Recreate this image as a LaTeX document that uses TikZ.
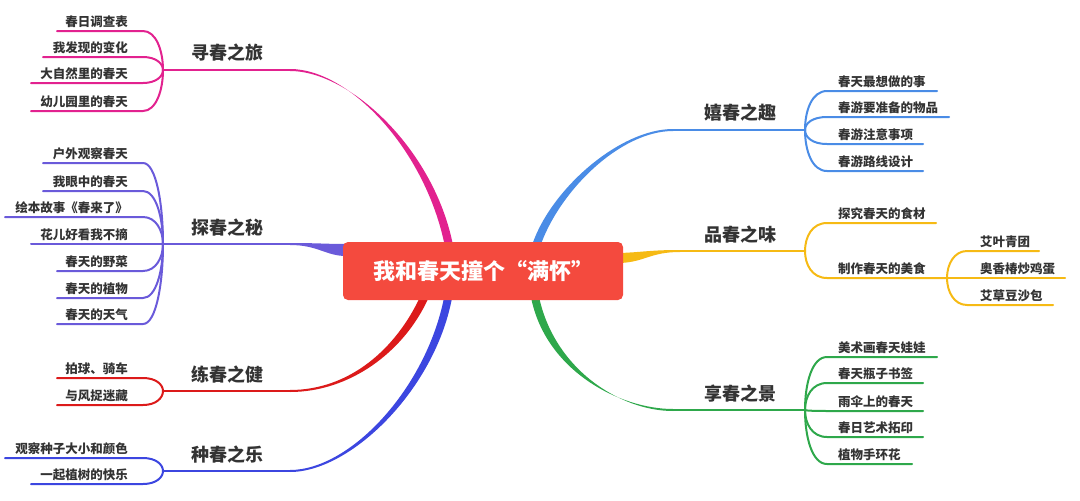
\documentclass[tikz,border=0pt]{standalone}
\usepackage{fontspec}
\setmainfont{Noto Sans CJK SC}
\usetikzlibrary{calc}
\definecolor{cmag}{HTML}{E2228F}
\definecolor{cpur}{HTML}{6A5ADA}
\definecolor{cred}{HTML}{DC1A1A}
\definecolor{cblu}{HTML}{3C46E0}
\definecolor{crbl}{HTML}{4A8CE6}
\definecolor{cyel}{HTML}{F6BA14}
\definecolor{cgrn}{HTML}{2EA84B}
\definecolor{boxred}{HTML}{F44A3E}
\definecolor{txt}{HTML}{333333}
\newcommand\taper[7]{\fill[#1] ($(#2)+(#6)$) .. controls ($(#3)+(#6)$) and ($(#4)+(#7)$) .. ($(#5)+(#7)$) -- ($(#5)-(#7)$) .. controls ($(#4)-(#7)$) and ($(#3)-(#6)$) .. ($(#2)-(#6)$) -- cycle;}
\tikzset{
  leafL/.style={anchor=base east, inner sep=0pt, text=txt, font=\fontsize{12.5}{14}\selectfont\bfseries},
  leafR/.style={anchor=base west, inner sep=0pt, text=txt, font=\fontsize{12.5}{14}\selectfont\bfseries},
  topic/.style={inner sep=0pt, text=txt, font=\fontsize{18}{20}\selectfont\bfseries},
  ln/.style={line width=2pt, line cap=round},
}
\begin{document}
\begin{tikzpicture}[x=1pt,y=-1pt]
\useasboundingbox (0,0) rectangle (1080,501);
% ---------- left forks
\coordinate (f1) at (163,70);
\coordinate (f2) at (163,244);
\coordinate (f3) at (163,391);
\coordinate (f4) at (163,471);
\coordinate (m1) at (290,70);
\coordinate (m2) at (290,244);
\coordinate (m3) at (290,391);
\coordinate (m4) at (290,471);
% ---------- right forks
\coordinate (g1) at (805,130);
\coordinate (g2) at (805,251);
\coordinate (g3) at (805,410);
\coordinate (g2b) at (947,278);
\coordinate (n1) at (673,130);
\coordinate (n2) at (680,251);
\coordinate (n3) at (673,410);

% main tapered connectors
\coordinate (b1) at (449,246);
\taper{cmag}{m1}{350,70}{430,150}{b1}{0,1}{4,-0.8}
\coordinate (b2) at (346,250);
\taper{cpur}{m2}{318,244}{326,250}{b2}{0,1}{0,6}
\coordinate (b3) at (424,298);
\taper{cred}{m3}{350,391}{400,350}{b3}{0,1}{3.6,1.8}
\coordinate (b4) at (448,298);
\taper{cblu}{m4}{350,471}{430,390}{b4}{0,1}{3.8,1.2}
\coordinate (b5) at (536,246);
\taper{crbl}{n1}{620,130}{555,190}{b5}{0,1}{3.8,1.4}
\coordinate (b6) at (620,258);
\taper{cyel}{n2}{650,251}{645,257}{b6}{0,1}{0,5}
\coordinate (b7) at (535,297);
\taper{cgrn}{n3}{620,410}{550,370}{b7}{0,1}{3.8,-1.2}

\draw[ln,cmag] (f1) -- (m1);
\draw[ln,cpur] (f2) -- (m2);
\draw[ln,cred] (f3) -- (m3);
\draw[ln,cblu] (f4) -- (m4);
\draw[ln,crbl] (g1) -- (n1);
\draw[ln,cyel] (g2) -- (n2);
\draw[ln,cgrn] (g3) -- (n3);

% topic labels
\node[topic] (t1) at (227,53) {寻春之旅};
\node[topic] (t2) at (227,228) {探春之秘};
\node[topic] (t3) at (227,375) {练春之健};
\node[topic] (t4) at (227,455) {种春之乐};
\node[topic] (t5) at (740,113) {嬉春之趣};
\node[topic] (t6) at (740,235) {品春之味};
\node[topic] (t7) at (740,394) {享春之景};

% left leaves
\foreach \n/\y/\xs/\t in {a1/31/57/春日调查表, a2/57/43/我发现的变化, a3/83/31/大自然里的春天, a4/111/31/幼儿园里的春天}{
  \node[leafL] (\n) at (128,\y-5) {\t};
  \coordinate (\n s) at (\xs,\y);
  \draw[ln,cmag] (\n s) -- (143,\y) .. controls (156,\y) and (163,{0.5*\y+35}) .. (f1);
}
\foreach \n/\y/\xs/\t in {p1/163/43/户外观察春天, p2/191/43/我眼中的春天, p3/217/5/绘本故事《春来了》, p4/244/31/花儿好看我不摘, p5/271/57/春天的野菜, p6/298/57/春天的植物, p7/324/57/春天的天气}{
  \node[leafL] (\n) at (128,\y-5) {\t};
  \coordinate (\n s) at (\xs,\y);
  \draw[ln,cpur] (\n s) -- (143,\y) .. controls (156,\y) and (163,{0.5*\y+122}) .. (f2);
}
\foreach \n/\y/\xs/\t in {r1/378/57/拍球、骑车, r2/405/57/与风捉迷藏}{
  \node[leafL] (\n) at (128,\y-5) {\t};
  \coordinate (\n s) at (\xs,\y);
  \draw[ln,cred] (\n s) -- (143,\y) .. controls (156,\y) and (163,{0.5*\y+195.5}) .. (f3);
}
\foreach \n/\y/\xs/\t in {s1/458/5/观察种子大小和颜色, s2/484/31/一起植树的快乐}{
  \node[leafL] (\n) at (128,\y-5) {\t};
  \coordinate (\n s) at (\xs,\y);
  \draw[ln,cblu] (\n s) -- (143,\y) .. controls (156,\y) and (163,{0.5*\y+235.5}) .. (f4);
}
% right leaves
\foreach \n/\y/\xe/\t in {h1/91/937/春天最想做的事, h2/117/949/春游要准备的物品, h3/144/923/春游注意事项, h4/171/923/春游路线设计}{
  \node[leafR] (\n) at (838,\y-5) {\t};
  \coordinate (\n e) at (\xe,\y);
  \draw[ln,crbl] (g1) .. controls (805,{0.5*\y+65}) and (812,\y) .. (827,\y) -- (\n e);
}
\foreach \n/\y/\xe/\t in {k1/223/936/探究春天的食材, k2/278/947/制作春天的美食}{
  \node[leafR] (\n) at (838,\y-5) {\t};
  \coordinate (\n e) at (\xe,\y);
  \draw[ln,cyel] (g2) .. controls (805,{0.5*\y+125.5}) and (812,\y) .. (827,\y) -- (\n e);
}
\foreach \n/\y/\xe/\t in {q1/251/1039/艾叶青团, q2/278/1065/奥香椿炒鸡蛋, q3/305/1053/艾草豆沙包}{
  \node[leafR] (\n) at (980,\y-5) {\t};
  \coordinate (\n e) at (\xe,\y);
  \draw[ln,cyel] (g2b) .. controls (947,{0.5*\y+139}) and (954,\y) .. (967,\y) -- (\n e);
}
\foreach \n/\y/\xe/\t in {j1/357/937/美术画春天娃娃, j2/383/923/春天瓶子书签, j3/411/923/雨伞上的春天, j4/437/923/春日艺术拓印, j5/464/912/植物手环花}{
  \node[leafR] (\n) at (838,\y-5) {\t};
  \coordinate (\n e) at (\xe,\y);
  \draw[ln,cgrn] (g3) .. controls (805,{0.5*\y+205}) and (812,\y) .. (827,\y) -- (\n e);
}

% centre
\node[fill=boxred, rounded corners=5pt, minimum width=280pt, minimum height=58pt, inner sep=0pt,
      text=white, font=\fontsize{22}{24}\selectfont\bfseries] (c) at (483,271) {我和春天撞个“满怀”};
\end{tikzpicture}
\end{document}
